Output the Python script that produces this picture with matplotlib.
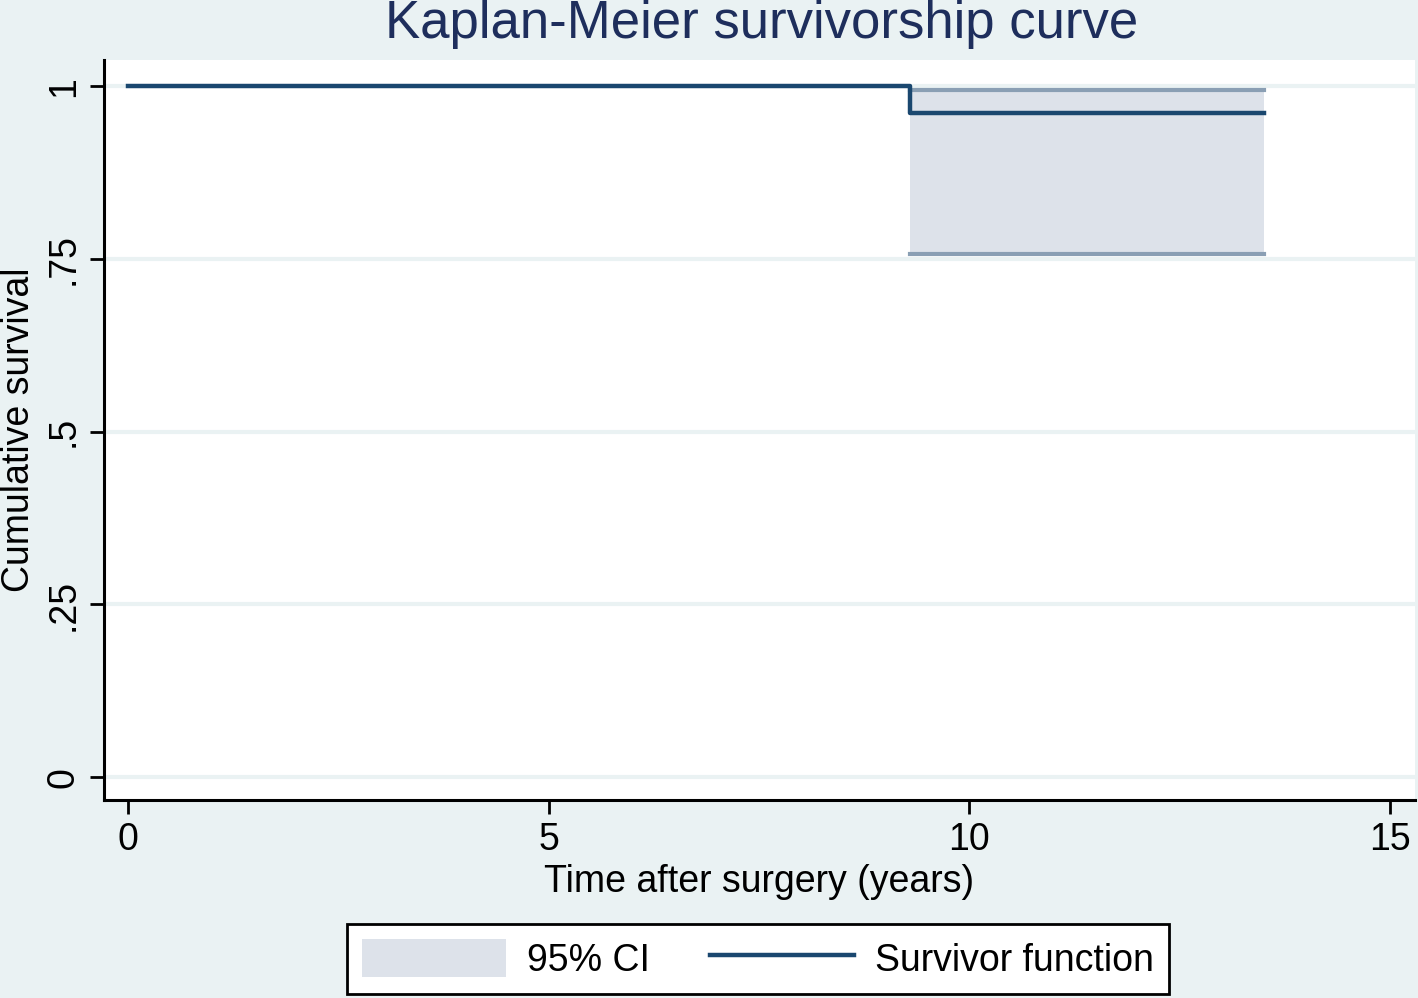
import matplotlib
matplotlib.use("Agg")
import matplotlib.pyplot as plt
from matplotlib.patches import Patch
from matplotlib.lines import Line2D

# Kaplan-Meier estimate
t_steps = [0, 9.3, 13.5]
surv = [1.0, 0.962, 0.962]
ci_t = [9.3, 13.5]
ci_upper = [0.995, 0.995]
ci_lower = [0.757, 0.757]

xticks = [0, 5, 10, 15]
yticks = [0, 0.25, 0.5, 0.75, 1]
yticklabels = ["0", ".25", ".5", ".75", "1"]

bg = "#EAF2F3"
navy = "#1a476f"
ci_fill = "#dde2ea"
ci_line = "#8a9fb4"

plt.rcParams["font.family"] = ["Liberation Sans", "DejaVu Sans"]

fig = plt.figure(figsize=(14.18, 9.98), dpi=100, facecolor=bg)
ax = fig.add_axes([104 / 1418, 1 - 800 / 998, (1415 - 104) / 1418, (800 - 60) / 998])
ax.set_facecolor("white")

ax.fill_between(ci_t, ci_lower, ci_upper, color=ci_fill, lw=0, zorder=2)
ax.plot(ci_t, ci_upper, color=ci_line, lw=3, zorder=3)
ax.plot(ci_t, ci_lower, color=ci_line, lw=3, zorder=3)
ax.step(t_steps, surv, where="post", color=navy, lw=3.2, zorder=4)

ax.set_xlim(-0.285, 15.3)
ax.set_ylim(-0.033, 1.038)
ax.set_xticks(xticks)
ax.set_yticks(yticks)
ax.set_yticklabels(yticklabels, rotation=90, va="center")
ax.tick_params(axis="both", labelsize=27, length=10, width=2, pad=6, colors="black")
ax.grid(axis="y", color=bg, lw=3, zorder=1)
ax.set_axisbelow(True)
for s in ["top", "right"]:
    ax.spines[s].set_visible(False)
for s in ["left", "bottom"]:
    ax.spines[s].set_linewidth(2.2)

ax.set_xlabel("Time after surgery (years)", fontsize=27, labelpad=4)
ax.set_ylabel("Cumulative survival", fontsize=27, labelpad=6)
fig.text(0.537, 0.976, "Kaplan-Meier survivorship curve", fontsize=38,
         color="#1e2e5c", ha="center", va="center")

handles = [Patch(facecolor=ci_fill, edgecolor="none"),
           Line2D([], [], color=navy, lw=3.2)]
leg = fig.legend(handles, ["95% CI", "Survivor function"], loc="center",
                 bbox_to_anchor=(758 / 1418, 1 - 959 / 998), ncol=2, fontsize=27,
                 frameon=True, fancybox=False, handlelength=3.85, handleheight=1.15,
                 columnspacing=1.6, handletextpad=0.55, borderpad=0.4)
leg.get_frame().set_edgecolor("black")
leg.get_frame().set_facecolor("white")
leg.get_frame().set_alpha(1)
leg.get_frame().set_linewidth(2)

fig.savefig("out.png", dpi=100, facecolor=bg)
